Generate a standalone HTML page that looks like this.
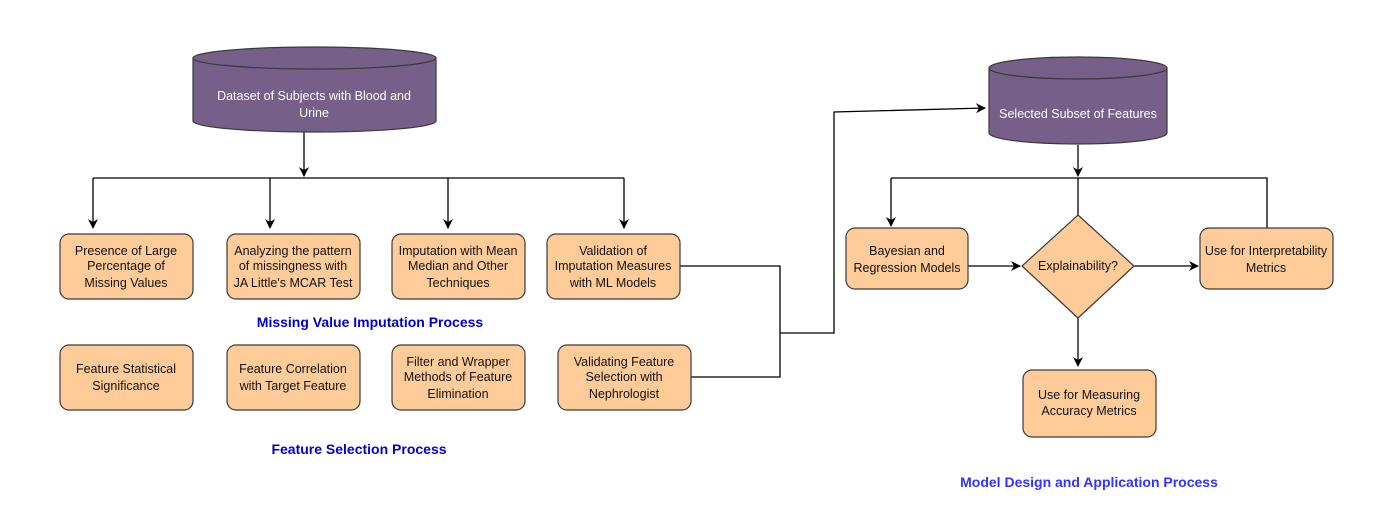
<!DOCTYPE html>
<html><head><meta charset="utf-8"><style>
body{margin:0;background:#fff;}
svg text{font-family:"Liberation Sans",Arial,sans-serif;}
</style></head><body>
<svg width="1394" height="512" viewBox="0 0 1394 512" xmlns="http://www.w3.org/2000/svg">
<defs><marker id="a" markerWidth="10" markerHeight="10" refX="9" refY="5" orient="auto" markerUnits="userSpaceOnUse"><path d="M0,0 L10,5 L0,10 L3,5 Z" fill="#000"/></marker></defs>
<g fill="none" stroke="#000" stroke-width="1.3">
<path d="M304,130 V176" marker-end="url(#a)"/>
<path d="M93,178 H624"/>
<path d="M93,178 V228" marker-end="url(#a)"/>
<path d="M270,178 V228" marker-end="url(#a)"/>
<path d="M448,178 V228" marker-end="url(#a)"/>
<path d="M624,178 V228" marker-end="url(#a)"/>
<path d="M680,266 H780 V377 H691"/>
<path d="M780,333 H834 V112 L985,108" marker-end="url(#a)"/>
<path d="M1078,145 V176" marker-end="url(#a)"/>
<path d="M891,178 H1267 V228"/>
<path d="M1078,178 V215"/>
<path d="M891,178 V226" marker-end="url(#a)"/>
<path d="M968,266 H1020" marker-end="url(#a)"/>
<path d="M1134,266 H1198" marker-end="url(#a)"/>
<path d="M1078,318 V366" marker-end="url(#a)"/>
</g>
<g stroke="#3a3a3a" stroke-width="1.2">
<path d="M193,58 V121 A121.5,11 0 0 0 436,121 V58 A121.5,11 0 0 0 193,58 Z" fill="#76608a"/>
<path d="M193,58 A121.5,11 0 0 0 436,58" fill="none"/>
<path d="M989,68 V133 A89,11 0 0 0 1167,133 V68 A89,11 0 0 0 989,68 Z" fill="#76608a"/>
<path d="M989,68 A89,11 0 0 0 1167,68" fill="none"/>
<g fill="#ffcc99">
<rect x="60" y="234" width="133" height="65" rx="9"/>
<rect x="227" y="234" width="133" height="65" rx="9"/>
<rect x="392" y="234" width="133" height="65" rx="9"/>
<rect x="547" y="234" width="133" height="65" rx="9"/>
<rect x="60" y="345" width="133" height="65" rx="9"/>
<rect x="227" y="345" width="133" height="65" rx="9"/>
<rect x="392" y="345" width="133" height="65" rx="9"/>
<rect x="558" y="345" width="133" height="65" rx="9"/>
<rect x="846" y="228" width="122" height="61" rx="9"/>
<rect x="1200" y="228" width="133" height="61" rx="9"/>
<rect x="1023" y="370" width="133" height="67" rx="9"/>
<path d="M1078,215 L1134,266 L1078,318 L1022,266 Z"/>
</g></g>
<g font-size="12.5" text-anchor="middle" fill="#111">
<text x="314" y="100" fill="#fff">Dataset of Subjects with Blood and</text>
<text x="314" y="117" fill="#fff">Urine</text>
<text x="1078" y="118" fill="#fff">Selected Subset of Features</text>
<text x="126" y="255">Presence of Large</text><text x="126" y="270">Percentage of</text><text x="126" y="287">Missing Values</text>
<text x="293" y="255">Analyzing the pattern</text><text x="293" y="270">of missingness with</text><text x="293" y="287">JA Little's MCAR Test</text>
<text x="458" y="255">Imputation with Mean</text><text x="458" y="270">Median and Other</text><text x="458" y="287">Techniques</text>
<text x="613" y="255">Validation of</text><text x="613" y="270">Imputation Measures</text><text x="613" y="287">with ML Models</text>
<text x="126" y="373">Feature Statistical</text><text x="126" y="390">Significance</text>
<text x="293" y="373">Feature Correlation</text><text x="293" y="390">with Target Feature</text>
<text x="458" y="366">Filter and Wrapper</text><text x="458" y="381">Methods of Feature</text><text x="458" y="398">Elimination</text>
<text x="624" y="366">Validating Feature</text><text x="624" y="381">Selection with</text><text x="624" y="398">Nephrologist</text>
<text x="907" y="255">Bayesian and</text><text x="907" y="272">Regression Models</text>
<text x="1078" y="270">Explainability?</text>
<text x="1266" y="255">Use for Interpretability</text><text x="1266" y="272">Metrics</text>
<text x="1089" y="399">Use for Measuring</text><text x="1089" y="415">Accuracy Metrics</text>
</g>
<g font-size="14" font-weight="bold" text-anchor="middle">
<text x="370" y="327" fill="#0000cc">Missing Value Imputation Process</text>
<text x="359" y="454" fill="#0000cc">Feature Selection Process</text>
<text x="1089" y="487" fill="#3333ff">Model Design and Application Process</text>
</g>
</svg>
</body></html>
